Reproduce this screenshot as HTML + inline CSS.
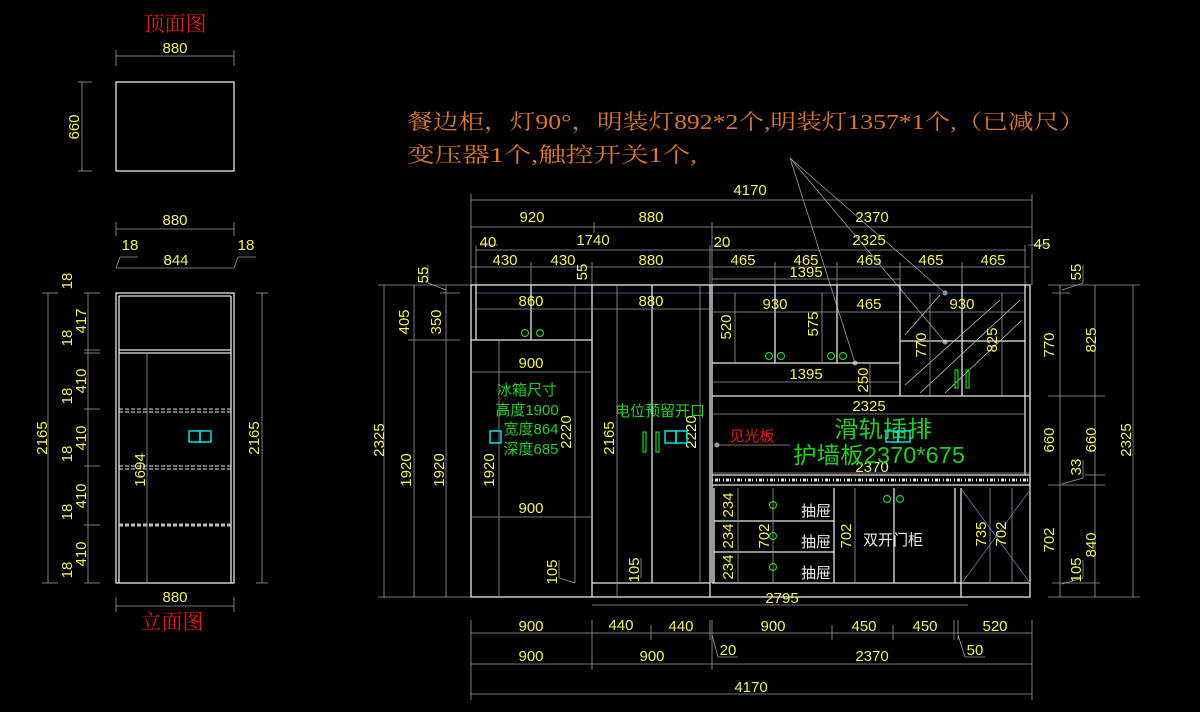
<!DOCTYPE html>
<html><head><meta charset="utf-8">
<style>
html,body{margin:0;padding:0;background:#000;}
svg{display:block;}
.d{fill:#f2f25a;font-family:"Liberation Sans Narrow","Liberation Sans","Noto Sans CJK SC",sans-serif;font-size:15px;text-anchor:middle;}
.w{stroke:#e6e6e6;stroke-width:1.3;fill:none;}
.g{stroke:#9a9a9a;stroke-width:0.8;fill:none;}
.gr{fill:none;stroke:#22cc22;stroke-width:1.2;}
.cy{fill:none;stroke:#00e0e0;stroke-width:1.5;}
.cn{font-family:"Liberation Sans","Noto Sans CJK SC",sans-serif;}
.sf{font-family:"Liberation Serif","Noto Serif CJK SC",serif;}
</style></head><body>
<svg width="1200" height="712" viewBox="0 0 1200 712" xmlns="http://www.w3.org/2000/svg">
<rect width="1200" height="712" fill="#000"/>

<!-- ===== TOP VIEW ===== -->
<text x="175" y="31" class="sf" fill="#e01818" font-size="21" text-anchor="middle">顶面图</text>
<text x="175" y="53" class="d">880</text>
<line x1="116" y1="56" x2="234" y2="56" class="g"/>
<line x1="116" y1="50" x2="116" y2="66" class="g"/><line x1="234" y1="50" x2="234" y2="66" class="g"/>
<rect x="116" y="82" width="118" height="89" class="w"/>
<line x1="82" y1="82" x2="82" y2="171" class="g"/>
<line x1="78" y1="82" x2="92" y2="82" class="g"/><line x1="78" y1="171" x2="92" y2="171" class="g"/>
<text x="79" y="127" class="d" transform="rotate(-90 79 127)">660</text>

<!-- ===== LEFT ELEVATION ===== -->
<text x="175" y="225" class="d">880</text>
<line x1="116" y1="229" x2="234" y2="229" class="g"/>
<line x1="116" y1="222" x2="116" y2="236" class="g"/><line x1="234" y1="222" x2="234" y2="236" class="g"/>
<text x="130" y="250" class="d">18</text><text x="246" y="250" class="d">18</text>
<line x1="120" y1="257" x2="138" y2="257" class="g"/><line x1="120" y1="257" x2="116" y2="268" class="g"/>
<line x1="238" y1="257" x2="256" y2="257" class="g"/><line x1="238" y1="257" x2="234" y2="268" class="g"/>
<text x="176" y="265" class="d">844</text>
<line x1="116" y1="268" x2="234" y2="268" class="g"/>
<rect x="116" y="293" width="118" height="290" class="w"/>
<line x1="119" y1="296" x2="119" y2="583" class="w" stroke-width="0.8"/>
<line x1="231" y1="296" x2="231" y2="583" class="w" stroke-width="0.8"/>
<line x1="119" y1="296" x2="231" y2="296" class="w" stroke-width="0.8"/>
<line x1="119" y1="350" x2="231" y2="350" class="w" stroke-width="1"/>
<line x1="119" y1="353" x2="231" y2="353" class="w" stroke-width="1"/>
<line x1="119" y1="409" x2="231" y2="409" stroke="#e0e0e0" stroke-dasharray="4 2" stroke-width="1"/>
<line x1="119" y1="412" x2="231" y2="412" stroke="#e0e0e0" stroke-dasharray="4 2" stroke-width="1"/>
<line x1="119" y1="466" x2="231" y2="466" stroke="#e0e0e0" stroke-dasharray="4 2" stroke-width="1"/>
<line x1="119" y1="469" x2="231" y2="469" stroke="#e0e0e0" stroke-dasharray="4 2" stroke-width="1"/>
<line x1="119" y1="525" x2="231" y2="525" stroke="#bbb" stroke-dasharray="4 2" stroke-width="3"/>
<line x1="147" y1="353" x2="147" y2="583" class="g"/>
<text x="145" y="470" class="d" transform="rotate(-90 145 470)">1694</text>
<rect x="189" y="431" width="11" height="11" class="cy"/><rect x="200" y="431" width="11" height="11" class="cy"/>
<line x1="48" y1="293" x2="48" y2="583" class="g"/>
<line x1="42" y1="293" x2="58" y2="293" class="g"/><line x1="42" y1="583" x2="58" y2="583" class="g"/>
<text x="47" y="438" class="d" transform="rotate(-90 47 438)">2165</text>
<line x1="88" y1="293" x2="88" y2="583" class="g"/>
<g class="g">
<line x1="84" y1="293" x2="100" y2="293"/><line x1="84" y1="350" x2="100" y2="350"/><line x1="84" y1="353" x2="100" y2="353"/>
<line x1="84" y1="409" x2="100" y2="409"/><line x1="84" y1="466" x2="100" y2="466"/><line x1="84" y1="525" x2="100" y2="525"/><line x1="84" y1="583" x2="100" y2="583"/>
</g>
<text x="72" y="281" class="d" transform="rotate(-90 72 281)">18</text>
<text x="86" y="321" class="d" transform="rotate(-90 86 321)">417</text>
<text x="72" y="338" class="d" transform="rotate(-90 72 338)">18</text>
<text x="86" y="381" class="d" transform="rotate(-90 86 381)">410</text>
<text x="72" y="396" class="d" transform="rotate(-90 72 396)">18</text>
<text x="86" y="438" class="d" transform="rotate(-90 86 438)">410</text>
<text x="72" y="454" class="d" transform="rotate(-90 72 454)">18</text>
<text x="86" y="496" class="d" transform="rotate(-90 86 496)">410</text>
<text x="72" y="512" class="d" transform="rotate(-90 72 512)">18</text>
<text x="86" y="554" class="d" transform="rotate(-90 86 554)">410</text>
<text x="72" y="570" class="d" transform="rotate(-90 72 570)">18</text>
<line x1="262" y1="293" x2="262" y2="583" class="g"/>
<line x1="256" y1="293" x2="268" y2="293" class="g"/><line x1="256" y1="583" x2="268" y2="583" class="g"/>
<text x="259" y="438" class="d" transform="rotate(-90 259 438)">2165</text>
<text x="175" y="602" class="d">880</text>
<line x1="116" y1="606" x2="234" y2="606" class="g"/>
<line x1="116" y1="597" x2="116" y2="612" class="g"/><line x1="234" y1="597" x2="234" y2="612" class="g"/>
<text x="172" y="629" class="sf" fill="#e01818" font-size="21" text-anchor="middle">立面图</text>

<!-- ===== ANNOTATION ===== -->
<text x="407" y="129" class="sf" fill="#d8782a" font-size="21" textLength="678" lengthAdjust="spacingAndGlyphs">餐边柜，灯90°，明装灯892*2个,明装灯1357*1个,（已减尺）</text>
<text x="407" y="162" class="sf" fill="#d8782a" font-size="21" textLength="290" lengthAdjust="spacingAndGlyphs">变压器1个,触控开关1个,</text>
<g class="g">
<line x1="790" y1="158" x2="855" y2="363"/>
<line x1="790" y1="158" x2="945" y2="293"/>
<line x1="790" y1="158" x2="945" y2="342"/>
</g>
<circle cx="855" cy="363" r="2.5" fill="#999"/><circle cx="945" cy="293" r="2.5" fill="#999"/><circle cx="945" cy="342" r="2.5" fill="#999"/>

<!-- ===== TOP DIMS ===== -->
<g class="g">
<line x1="471" y1="200" x2="1032" y2="200"/>
<line x1="471" y1="227" x2="1032" y2="227"/>
<line x1="476" y1="250" x2="1025" y2="250"/>
<line x1="471" y1="267" x2="1030" y2="267"/>
<line x1="712" y1="279" x2="900" y2="279"/>
<line x1="471" y1="194" x2="471" y2="285"/><line x1="1032" y1="194" x2="1032" y2="285"/>
<line x1="594" y1="222" x2="594" y2="233"/><line x1="712" y1="222" x2="712" y2="285"/><line x1="710" y1="245" x2="710" y2="285"/>
<line x1="476" y1="245" x2="476" y2="285"/><line x1="1025" y1="245" x2="1025" y2="285"/>
<line x1="531" y1="262" x2="531" y2="285"/><line x1="592" y1="262" x2="592" y2="285"/>
<line x1="775" y1="262" x2="775" y2="285"/><line x1="837" y1="262" x2="837" y2="285"/><line x1="900" y1="262" x2="900" y2="285"/><line x1="962" y1="262" x2="962" y2="285"/>
<line x1="480" y1="245" x2="498" y2="245"/><line x1="716" y1="245" x2="730" y2="245"/><line x1="1028" y1="245" x2="1048" y2="245"/>
</g>
<text x="750" y="195" class="d">4170</text>
<text x="532" y="222" class="d">920</text><text x="651" y="222" class="d">880</text><text x="872" y="222" class="d">2370</text>
<text x="488" y="247" class="d">40</text><text x="593" y="245" class="d">1740</text><text x="722" y="247" class="d">20</text><text x="869" y="245" class="d">2325</text><text x="1042" y="249" class="d">45</text>
<text x="505" y="265" class="d">430</text><text x="563" y="265" class="d">430</text><text x="651" y="265" class="d">880</text>
<text x="743" y="265" class="d">465</text><text x="806" y="265" class="d">465</text><text x="869" y="265" class="d">465</text><text x="931" y="265" class="d">465</text><text x="993" y="265" class="d">465</text>
<text x="806" y="277" class="d">1395</text>
<text x="587" y="272" class="d" transform="rotate(-90 587 272)">55</text>

<!-- ===== MAIN CABINET ===== -->
<rect x="471" y="285" width="559" height="312" class="w"/>
<line x1="476" y1="293" x2="1025" y2="293" stroke="#5070b0" stroke-width="0.8"/>
<line x1="476" y1="285" x2="476" y2="340" class="w" stroke-width="0.9"/>
<line x1="471" y1="340" x2="592" y2="340" class="w"/>
<line x1="531" y1="285" x2="531" y2="340" class="w" stroke-width="0.9"/>
<line x1="592" y1="285" x2="592" y2="597" class="w"/>
<circle cx="525" cy="333" r="3.5" class="gr"/><circle cx="540" cy="333" r="3.5" class="gr"/>
<line x1="476" y1="309" x2="592" y2="309" class="g"/><text x="531" y="306" class="d">860</text>
<line x1="471" y1="372" x2="592" y2="372" class="g"/><text x="531" y="368" class="d">900</text>
<line x1="471" y1="517" x2="592" y2="517" class="g"/><text x="531" y="513" class="d">900</text>
<line x1="499" y1="340" x2="499" y2="597" class="g"/>
<text x="494" y="470" class="d" transform="rotate(-90 494 470)">1920</text>
<line x1="575" y1="285" x2="575" y2="583" class="g"/>
<text x="571" y="432" class="d" transform="rotate(-90 571 432)">2220</text>
<text x="557" y="572" class="d" transform="rotate(-90 557 572)">105</text>
<line x1="559" y1="560" x2="559" y2="578" class="g"/><line x1="559" y1="578" x2="575" y2="583" class="g"/>
<text x="527" y="395" class="cn" fill="#22cc22" font-size="15" text-anchor="middle">冰箱尺寸</text>
<text x="527" y="415" class="cn" fill="#22cc22" font-size="15" text-anchor="middle">高度1900</text>
<text x="531" y="434" class="cn" fill="#22cc22" font-size="15" text-anchor="middle">宽度864</text>
<text x="531" y="454" class="cn" fill="#22cc22" font-size="15" text-anchor="middle">深度685</text>
<rect x="490" y="431" width="11" height="12" class="cy"/>
<line x1="652" y1="285" x2="652" y2="583" class="w" stroke-width="1"/>
<line x1="592" y1="583" x2="710" y2="583" class="w"/>
<line x1="710" y1="285" x2="710" y2="597" class="w"/>
<line x1="712" y1="285" x2="712" y2="583" class="w" stroke-width="1"/>
<line x1="592" y1="309" x2="710" y2="309" class="g"/><text x="651" y="306" class="d">880</text>
<line x1="617" y1="285" x2="617" y2="597" class="g"/>
<text x="614" y="438" class="d" transform="rotate(-90 614 438)">2165</text>
<line x1="700" y1="285" x2="700" y2="583" class="g"/>
<text x="696" y="432" class="d" transform="rotate(-90 696 432)">2220</text>
<text x="639" y="570" class="d" transform="rotate(-90 639 570)">105</text>
<line x1="641" y1="558" x2="641" y2="578" class="g"/>
<text x="660" y="416" class="cn" fill="#22cc22" font-size="15" text-anchor="middle">电位预留开口</text>
<rect x="643" y="432" width="3" height="20" class="gr"/><rect x="656" y="432" width="3" height="20" class="gr"/>
<rect x="665" y="431" width="11" height="12" class="cy"/><rect x="676" y="431" width="11" height="12" class="cy"/>
<line x1="712" y1="363" x2="900" y2="363" class="w"/>
<line x1="775" y1="285" x2="775" y2="363" class="w" stroke-width="1"/>
<line x1="837" y1="285" x2="837" y2="363" class="w" stroke-width="1"/>
<line x1="900" y1="285" x2="900" y2="396" class="w" stroke-width="1"/>
<line x1="962" y1="285" x2="962" y2="396" class="w" stroke-width="1"/>
<line x1="1025" y1="285" x2="1025" y2="475" class="w" stroke-width="1"/>
<line x1="900" y1="341" x2="1025" y2="341" class="w" stroke-width="1"/>
<line x1="712" y1="396" x2="1030" y2="396" class="w"/>
<line x1="712" y1="475" x2="1030" y2="475" class="w"/>
<line x1="712" y1="485" x2="1030" y2="485" class="w"/>
<line x1="712" y1="480" x2="1030" y2="480" stroke="#ddd" stroke-width="3" stroke-dasharray="1 2 3 1 1 3"/>
<g stroke="#bbb" stroke-width="0.8">
<line x1="905" y1="335" x2="940" y2="295"/><line x1="905" y1="385" x2="1000" y2="300"/><line x1="920" y1="393" x2="1020" y2="300"/><line x1="945" y1="393" x2="1022" y2="320"/>
</g>
<circle cx="769" cy="356" r="3.5" class="gr"/><circle cx="781" cy="356" r="3.5" class="gr"/>
<circle cx="831" cy="356" r="3.5" class="gr"/><circle cx="843" cy="356" r="3.5" class="gr"/>
<rect x="955" y="370" width="3" height="18" class="gr"/><rect x="966" y="370" width="3" height="18" class="gr"/>
<g class="g">
<line x1="712" y1="312" x2="900" y2="312"/><line x1="900" y1="312" x2="1025" y2="312"/>
<line x1="712" y1="382" x2="900" y2="382"/>
<line x1="712" y1="414" x2="1025" y2="414"/>
<line x1="712" y1="473" x2="1030" y2="473"/>
<line x1="735" y1="293" x2="735" y2="363"/><line x1="822" y1="293" x2="822" y2="363"/>
<line x1="870" y1="363" x2="870" y2="396"/><line x1="930" y1="293" x2="930" y2="396"/><line x1="1002" y1="293" x2="1002" y2="396"/>
</g>
<text x="775" y="309" class="d">930</text><text x="869" y="309" class="d">465</text><text x="962" y="309" class="d">930</text>
<text x="731" y="327" class="d" transform="rotate(-90 731 327)">520</text>
<text x="818" y="324" class="d" transform="rotate(-90 818 324)">575</text>
<text x="806" y="379" class="d">1395</text>
<text x="868" y="380" class="d" transform="rotate(-90 868 380)">250</text>
<text x="926" y="345" class="d" transform="rotate(-90 926 345)">770</text>
<text x="997" y="340" class="d" transform="rotate(-90 997 340)">825</text>
<text x="869" y="411" class="d">2325</text>
<text x="872" y="472" class="d">2370</text>
<text x="834" y="437" class="cn" fill="#22cc22" font-size="23" textLength="98" lengthAdjust="spacingAndGlyphs">滑轨插排</text>
<rect x="886" y="431" width="12" height="11" class="cy"/><rect x="898" y="431" width="12" height="11" class="cy"/>
<text x="793" y="463" class="cn" fill="#22cc22" font-size="23" textLength="172" lengthAdjust="spacingAndGlyphs">护墙板2370*675</text>
<text x="752" y="441" class="cn" fill="#e01818" font-size="15" text-anchor="middle">见光板</text>
<line x1="717" y1="445" x2="790" y2="445" class="g"/><circle cx="717" cy="445" r="2.5" fill="#999"/>
<line x1="714" y1="488" x2="714" y2="583" class="w" stroke-width="0.8"/>
<line x1="714" y1="521" x2="834" y2="521" class="w"/>
<line x1="714" y1="552" x2="834" y2="552" class="w"/>
<line x1="834" y1="488" x2="834" y2="583" class="w"/>
<line x1="894" y1="488" x2="894" y2="583" class="w" stroke-width="1"/>
<line x1="955" y1="488" x2="955" y2="583" class="w"/>
<line x1="961" y1="488" x2="961" y2="597" class="w"/>
<line x1="712" y1="583" x2="1030" y2="583" class="w"/>
<line x1="962" y1="490" x2="1030" y2="583" stroke="#5a6a9a" stroke-width="0.9"/>
<line x1="1030" y1="490" x2="962" y2="583" stroke="#5a6a9a" stroke-width="0.9"/>
<circle cx="773" cy="505" r="3.5" class="gr"/><circle cx="773" cy="536" r="3.5" class="gr"/><circle cx="773" cy="567" r="3.5" class="gr"/>
<circle cx="887" cy="499" r="3.5" class="gr"/><circle cx="900" cy="499" r="3.5" class="gr"/>
<text x="816" y="516" class="cn" fill="#eee" font-size="15" text-anchor="middle">抽屉</text>
<text x="816" y="547" class="cn" fill="#eee" font-size="15" text-anchor="middle">抽屉</text>
<text x="816" y="578" class="cn" fill="#eee" font-size="15" text-anchor="middle">抽屉</text>
<text x="893" y="545" class="cn" fill="#eee" font-size="15" text-anchor="middle">双开门柜</text>
<g class="g">
<line x1="738" y1="488" x2="738" y2="583"/><line x1="773" y1="488" x2="773" y2="583"/><line x1="855" y1="488" x2="855" y2="583"/>
<line x1="990" y1="488" x2="990" y2="583"/><line x1="1012" y1="488" x2="1012" y2="583"/>
<line x1="592" y1="605" x2="968" y2="605"/>
</g>
<text x="733" y="505" class="d" transform="rotate(-90 733 505)">234</text>
<text x="733" y="536" class="d" transform="rotate(-90 733 536)">234</text>
<text x="733" y="567" class="d" transform="rotate(-90 733 567)">234</text>
<text x="769" y="536" class="d" transform="rotate(-90 769 536)">702</text>
<text x="851" y="536" class="d" transform="rotate(-90 851 536)">702</text>
<text x="986" y="534" class="d" transform="rotate(-90 986 534)">735</text>
<text x="1006" y="534" class="d" transform="rotate(-90 1006 534)">702</text>
<text x="782" y="603" class="d">2795</text>

<!-- ===== LEFT DIMS (main) ===== -->
<g class="g">
<line x1="384" y1="285" x2="384" y2="597"/>
<line x1="414" y1="285" x2="414" y2="597"/>
<line x1="446" y1="285" x2="446" y2="597"/>
<line x1="378" y1="285" x2="470" y2="285"/><line x1="378" y1="597" x2="470" y2="597"/>
<line x1="408" y1="340" x2="460" y2="340"/><line x1="440" y1="293" x2="460" y2="293"/>
<line x1="428" y1="265" x2="428" y2="283"/><line x1="428" y1="283" x2="446" y2="290"/>
</g>
<text x="384" y="440" class="d" transform="rotate(-90 384 440)">2325</text>
<text x="409" y="322" class="d" transform="rotate(-90 409 322)">405</text>
<text x="411" y="470" class="d" transform="rotate(-90 411 470)">1920</text>
<text x="428" y="275" class="d" transform="rotate(-90 428 275)">55</text>
<text x="441" y="322" class="d" transform="rotate(-90 441 322)">350</text>
<text x="444" y="470" class="d" transform="rotate(-90 444 470)">1920</text>

<!-- ===== RIGHT DIMS ===== -->
<g class="g">
<line x1="1060" y1="285" x2="1060" y2="597"/>
<line x1="1095" y1="285" x2="1095" y2="597"/>
<line x1="1133" y1="285" x2="1133" y2="597"/>
<line x1="1048" y1="285" x2="1140" y2="285"/><line x1="1048" y1="597" x2="1140" y2="597"/>
<line x1="1048" y1="396" x2="1105" y2="396"/><line x1="1048" y1="485" x2="1105" y2="485"/>
<line x1="1052" y1="293" x2="1070" y2="293"/><line x1="1085" y1="475" x2="1105" y2="475"/><line x1="1052" y1="583" x2="1100" y2="583"/>
<line x1="1083" y1="265" x2="1083" y2="283"/><line x1="1083" y1="283" x2="1062" y2="290"/>
<line x1="1083" y1="460" x2="1083" y2="478"/><line x1="1083" y1="478" x2="1062" y2="484"/>
<line x1="1083" y1="560" x2="1083" y2="578"/><line x1="1083" y1="578" x2="1062" y2="584"/>
</g>
<text x="1081" y="272" class="d" transform="rotate(-90 1081 272)">55</text>
<text x="1054" y="345" class="d" transform="rotate(-90 1054 345)">770</text>
<text x="1054" y="440" class="d" transform="rotate(-90 1054 440)">660</text>
<text x="1054" y="540" class="d" transform="rotate(-90 1054 540)">702</text>
<text x="1096" y="340" class="d" transform="rotate(-90 1096 340)">825</text>
<text x="1096" y="440" class="d" transform="rotate(-90 1096 440)">660</text>
<text x="1081" y="467" class="d" transform="rotate(-90 1081 467)">33</text>
<text x="1096" y="545" class="d" transform="rotate(-90 1096 545)">840</text>
<text x="1081" y="570" class="d" transform="rotate(-90 1081 570)">105</text>
<text x="1131" y="440" class="d" transform="rotate(-90 1131 440)">2325</text>

<!-- ===== BOTTOM DIMS ===== -->
<g class="g">
<line x1="471" y1="633" x2="1032" y2="633"/>
<line x1="471" y1="664" x2="1032" y2="664"/>
<line x1="471" y1="694" x2="1032" y2="694"/>
<line x1="471" y1="620" x2="471" y2="700"/><line x1="1032" y1="620" x2="1032" y2="700"/>
<line x1="592" y1="620" x2="592" y2="670"/><line x1="651" y1="625" x2="651" y2="640"/>
<line x1="710" y1="620" x2="710" y2="640"/><line x1="712" y1="620" x2="712" y2="670"/>
<line x1="832" y1="625" x2="832" y2="640"/><line x1="893" y1="625" x2="893" y2="640"/>
<line x1="954" y1="620" x2="954" y2="640"/><line x1="958" y1="620" x2="958" y2="640"/>
<line x1="712" y1="635" x2="718" y2="657"/><line x1="718" y1="657" x2="738" y2="657"/>
<line x1="958" y1="635" x2="965" y2="657"/><line x1="965" y1="657" x2="985" y2="657"/>
</g>
<text x="531" y="631" class="d">900</text><text x="621" y="630" class="d">440</text><text x="681" y="631" class="d">440</text>
<text x="773" y="631" class="d">900</text><text x="864" y="631" class="d">450</text><text x="925" y="631" class="d">450</text><text x="995" y="631" class="d">520</text>
<text x="531" y="661" class="d">900</text><text x="652" y="661" class="d">900</text><text x="728" y="655" class="d">20</text>
<text x="872" y="661" class="d">2370</text><text x="975" y="655" class="d">50</text>
<text x="751" y="692" class="d">4170</text>
</svg>
</body></html>
